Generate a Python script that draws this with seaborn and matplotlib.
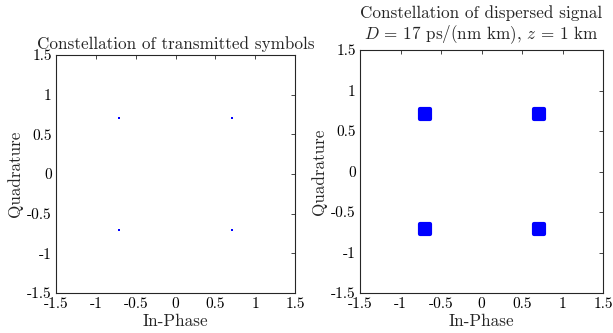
import matplotlib
matplotlib.use("Agg")
import matplotlib.pyplot as plt
from matplotlib.markers import MarkerStyle
import seaborn as sns
import pandas as pd

# QPSK symbols (transmitted) and received clusters after dispersion
tx_i = [0.707, -0.707, -0.707, 0.707]
tx_q = [0.707, 0.707, -0.707, -0.707]

rx_i = [0.71, -0.70, -0.70, 0.71]
rx_q = [0.71, 0.71, -0.71, -0.71]

ticks = [-1.5, -1, -0.5, 0, 0.5, 1, 1.5]
tick_labels = ["-1.5", "-1", "-0.5", "0", "0.5", "1", "1.5"]

sns.set_style("white")
plt.rcParams["font.family"] = ["cmr10", "DejaVu Serif"]
plt.rcParams["mathtext.fontset"] = "cm"
plt.rcParams["axes.formatter.use_mathtext"] = True

fig = plt.figure(figsize=(6.13, 3.33), dpi=100)
ax1 = fig.add_axes([56 / 613, 40 / 333, 239 / 613, 238 / 333])
ax2 = fig.add_axes([360 / 613, 40 / 333, 243 / 613, 243 / 333])

tx = pd.DataFrame({"I": tx_i, "Q": tx_q})
rx = pd.DataFrame({"I": rx_i, "Q": rx_q})

sns.scatterplot(data=tx, x="I", y="Q", ax=ax1, color="#0000ff",
                marker="s", s=3, linewidth=0)
sns.scatterplot(data=rx, x="I", y="Q", ax=ax2, color="#0000ff",
                marker=MarkerStyle("s", joinstyle="round"), s=55,
                edgecolor="#0000ff", linewidth=3)

ax1.set_title("Constellation of transmitted symbols", fontsize=12.3, pad=4)
ax2.set_title("Constellation of dispersed signal\n"
              "$D$ = 17 ps/(nm km), $z$ = 1 km", fontsize=12.3, pad=8,
              linespacing=1.15)

for ax in (ax1, ax2):
    ax.set_xlim(-1.5, 1.5)
    ax.set_ylim(-1.5, 1.5)
    ax.set_xticks(ticks)
    ax.set_yticks(ticks)
    ax.set_xticklabels(tick_labels)
    ax.set_yticklabels(tick_labels)
    ax.set_xlabel("In-Phase", fontsize=12.3, labelpad=2)
    ax.set_ylabel("Quadrature", fontsize=12.3, labelpad=3)
    ax.tick_params(direction="in", length=3, width=0.6, labelsize=11,
                   top=True, right=True, pad=3, colors="#262626",
                   labelcolor="black")
    for sp in ax.spines.values():
        sp.set_color("#262626")
        sp.set_linewidth(0.8)

fig.savefig("out.png", dpi=100)
